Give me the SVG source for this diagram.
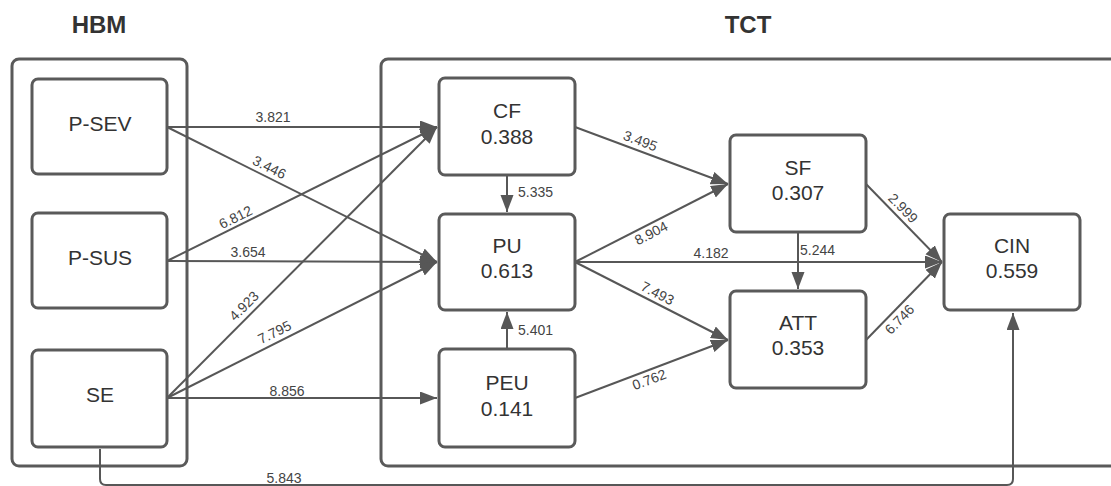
<svg xmlns="http://www.w3.org/2000/svg" width="1111" height="486" viewBox="0 0 1111 486">
<defs>
<marker id="ah" markerUnits="userSpaceOnUse" markerWidth="18" markerHeight="14" refX="17" refY="6.5" orient="auto">
<path d="M0,0 L17,6.5 L0,13 Z" fill="#575757"/>
</marker>
<style>
.box{fill:#fff;stroke:#5a5a5a;stroke-width:3}
.grp{fill:none;stroke:#5a5a5a;stroke-width:3}
.e{fill:none;stroke:#575757;stroke-width:2;marker-end:url(#ah)}
.n{font-family:"Liberation Sans",Arial,sans-serif;font-size:21px;fill:#333;text-anchor:middle}
.t{font-family:"Liberation Sans",Arial,sans-serif;font-size:24px;font-weight:bold;fill:#333;text-anchor:middle}
.l{font-family:"Liberation Sans",Arial,sans-serif;font-size:14px;fill:#444;text-anchor:middle}
.ls{font-family:"Liberation Sans",Arial,sans-serif;font-size:14px;fill:#444;text-anchor:start}
</style>
</defs>
<rect width="1111" height="486" fill="#fff"/>
<g id="groups">
<text class="t" x="99" y="33">HBM</text>
<text class="t" x="748" y="33">TCT</text>
<rect id="HBM" class="grp" x="12" y="59" width="175" height="407" rx="7"/>
<rect id="TCT" class="grp" x="381" y="59" width="760" height="407" rx="7"/>
</g>
<g id="connectors">
<line class="e" x1="167" y1="127" x2="437" y2="127"/>
<line class="e" x1="167" y1="127" x2="437" y2="262"/>
<line class="e" x1="167" y1="261" x2="437" y2="127"/>
<line class="e" x1="167" y1="261" x2="437" y2="262"/>
<line class="e" x1="167" y1="398" x2="437" y2="127"/>
<line class="e" x1="167" y1="398" x2="437" y2="262"/>
<line class="e" x1="167" y1="398" x2="437" y2="398"/>
<path class="e" d="M100,449 V479 Q100,485 106,485 H1007 Q1013,485 1013,479 V313"/>
<line class="e" x1="507" y1="175" x2="507" y2="212"/>
<line class="e" x1="507" y1="349" x2="507" y2="312"/>
<line class="e" x1="575" y1="127" x2="728" y2="184"/>
<line class="e" x1="575" y1="262" x2="728" y2="184"/>
<line class="e" x1="575" y1="262" x2="942" y2="262"/>
<line class="e" x1="575" y1="262" x2="728" y2="340"/>
<line class="e" x1="575" y1="398" x2="728" y2="340"/>
<line class="e" x1="798" y1="232" x2="798" y2="289"/>
<line class="e" x1="866" y1="184" x2="942" y2="262"/>
<line class="e" x1="866" y1="340" x2="942" y2="262"/>
<g id="labels">
<text class="l" x="273" y="122">3.821</text>
<text class="l" transform="translate(265,176) rotate(26.57)" y="-5">3.446</text>
<text class="l" transform="translate(240,226) rotate(-26.57)" y="-5">6.812</text>
<text class="l" x="248" y="257">3.654</text>
<text class="l" transform="translate(251,313) rotate(-45)" y="-5">4.923</text>
<text class="l" transform="translate(279,341) rotate(-26.57)" y="-5">7.795</text>
<text class="l" x="287" y="396">8.856</text>
<text class="l" x="284" y="483">5.843</text>
<text class="ls" x="518" y="197">5.335</text>
<text class="ls" x="518" y="335">5.401</text>
<text class="l" transform="translate(637,150) rotate(20.4)" y="-5">3.495</text>
<text class="l" transform="translate(647,225) rotate(-27)" y="14">8.904</text>
<text class="l" x="711" y="258">4.182</text>
<text class="l" transform="translate(653,302) rotate(27)" y="-5">7.493</text>
<text class="l" transform="translate(646,371) rotate(-20.4)" y="14">0.762</text>
<text class="ls" x="800" y="255">5.244</text>
<text class="l" transform="translate(896,215) rotate(45.7)" y="-5">2.999</text>
<text class="l" transform="translate(893,313) rotate(-45.7)" y="14">6.746</text>
</g>
</g>
<g id="P-SEV"><rect class="box" x="32" y="79" width="135" height="95" rx="6"/><text class="n" x="100" y="131">P-SEV</text></g>
<g id="P-SUS"><rect class="box" x="32" y="213" width="135" height="95" rx="6"/><text class="n" x="100" y="265">P-SUS</text></g>
<g id="SE"><rect class="box" x="32" y="350" width="135" height="97" rx="6"/><text class="n" x="100" y="402">SE</text></g>
<g id="CF"><rect class="box" x="439" y="78" width="136" height="97" rx="6"/><text class="n" x="507" y="118">CF</text><text class="n" x="507" y="144">0.388</text></g>
<g id="PU"><rect class="box" x="439" y="214" width="136" height="96" rx="6"/><text class="n" x="507" y="253">PU</text><text class="n" x="507" y="278">0.613</text></g>
<g id="PEU"><rect class="box" x="439" y="349" width="136" height="98" rx="6"/><text class="n" x="507" y="390">PEU</text><text class="n" x="507" y="416">0.141</text></g>
<g id="SF"><rect class="box" x="730" y="135" width="136" height="97" rx="6"/><text class="n" x="798" y="175">SF</text><text class="n" x="798" y="200">0.307</text></g>
<g id="ATT"><rect class="box" x="730" y="291" width="136" height="97" rx="6"/><text class="n" x="798" y="330">ATT</text><text class="n" x="798" y="355">0.353</text></g>
<g id="CIN"><rect class="box" x="944" y="214" width="136" height="96" rx="6"/><text class="n" x="1012" y="253">CIN</text><text class="n" x="1012" y="278">0.559</text></g>
</svg>
